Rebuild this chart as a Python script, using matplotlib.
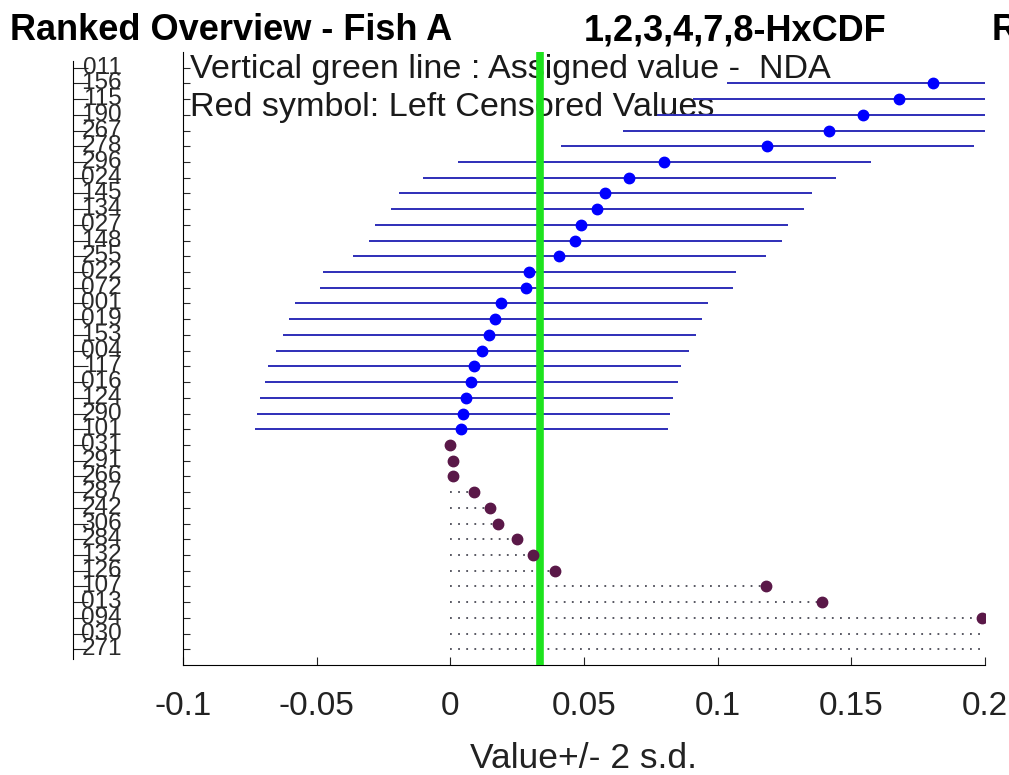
import numpy as np
import matplotlib.pyplot as plt

# lab codes, ranked top to bottom
labs = ['011', '156', '115', '190', '267', '278', '296', '024', '145', '134',
        '027', '148', '255', '022', '072', '001', '019', '153', '004', '117',
        '016', '124', '290', '101', '031', '291', '266', '287', '242', '306',
        '284', '132', '126', '107', '013', '094', '030', '271']
# reported values (011, 030, 271 are off scale to the right)
vals = [0.30, 0.1807, 0.168, 0.1545, 0.1418, 0.1186, 0.0801, 0.067, 0.058, 0.055,
        0.049, 0.0468, 0.0408, 0.0296, 0.0284, 0.0191, 0.0168, 0.0146, 0.012, 0.009,
        0.0079, 0.006, 0.0049, 0.0041, 0.0, 0.0011, 0.0011, 0.009, 0.015, 0.018,
        0.025, 0.031, 0.039, 0.118, 0.139, 0.199, 0.25, 0.30]
# left censored flag
cens = [False] * 24 + [True] * 14
two_sd = 0.0772
assigned = 0.0337

plt.rcParams['font.family'] = ['Liberation Sans', 'DejaVu Sans']

fig = plt.figure(figsize=(10.09, 7.75), dpi=100)
W, H = 1009, 775
ax = fig.add_axes([183 / W, 1 - 665 / H, (985 - 183) / W, (665 - 52) / H])

rows = np.arange(1, len(labs) + 1)
v = np.array(vals)
c = np.array(cens)

# error bars for the normal results
ax.hlines(rows[~c], v[~c] - two_sd, v[~c] + two_sd, color='#2e2eb8', lw=1.4, zorder=2)
ax.plot(v[~c], rows[~c], 'o', color='#0000ff', ms=7.5, zorder=4)

# censored: dotted from 0 up to the value
ax.hlines(rows[c], 0, v[c], color='#4a4a55', lw=1.3, linestyles=(0, (1, 3.5)), zorder=2)
ax.plot(v[c], rows[c], 'o', color='#5a1848', ms=7.5, zorder=4)

ax.axvline(assigned, color='#1ee31e', lw=5.5, zorder=3)

ax.set_xlim(-0.1, 0.2)
ax.set_ylim(39, 0)
ax.set_xticks([-0.1, -0.05, 0, 0.05, 0.1, 0.15, 0.2])
ax.set_xticklabels(['-0.1', '-0.05', '0', '0.05', '0.1', '0.15', '0.2'])
ax.set_yticks(rows)
ax.set_yticklabels(labs)
ax.spines['top'].set_visible(False)
ax.spines['right'].set_visible(False)
ax.tick_params(axis='x', direction='in', length=6, labelsize=24, pad=19, colors='#222222')
ax.tick_params(axis='y', direction='in', length=5, labelsize=17.5, pad=44, colors='#2a2a2a')
for t in ax.get_yticklabels():
    t.set_va('center')
ax.set_xlabel('Value+/- 2 s.d.', fontsize=25.5, color='#222222', labelpad=14)

# the extra label spine on the far left
lax = fig.add_axes([73 / W, 1 - 665 / H, 0.0001, (665 - 52) / H], sharey=ax)
for s in ['top', 'right', 'bottom']:
    lax.spines[s].set_visible(False)
lax.spines['left'].set_bounds(0.6, 38.6)
lax.set_xticks([])
lax.tick_params(axis='y', direction='in', length=11, labelleft=False, color='#222222')
lax.patch.set_visible(False)

ax.text(0.009, 0.971, 'Vertical green line : Assigned value -  NDA', transform=ax.transAxes,
        fontsize=24.6, va='center', ha='left', color='#1a1a1a', zorder=1)
ax.text(0.009, 0.91, 'Red symbol: Left Censored Values', transform=ax.transAxes,
        fontsize=24.6, va='center', ha='left', color='#1a1a1a', zorder=1)

fig.text(10 / W, 1 - 31 / H, 'Ranked Overview - Fish A', fontsize=26, fontweight='bold',
         va='center', ha='left')
fig.text(735 / W, 1 - 31 / H, '1,2,3,4,7,8-HxCDF', fontsize=26, fontweight='bold',
         va='center', ha='center')
fig.text(992 / W, 1 - 31 / H, 'R', fontsize=26, fontweight='bold',
         va='center', ha='left')

fig.savefig('out.png', dpi=100)
